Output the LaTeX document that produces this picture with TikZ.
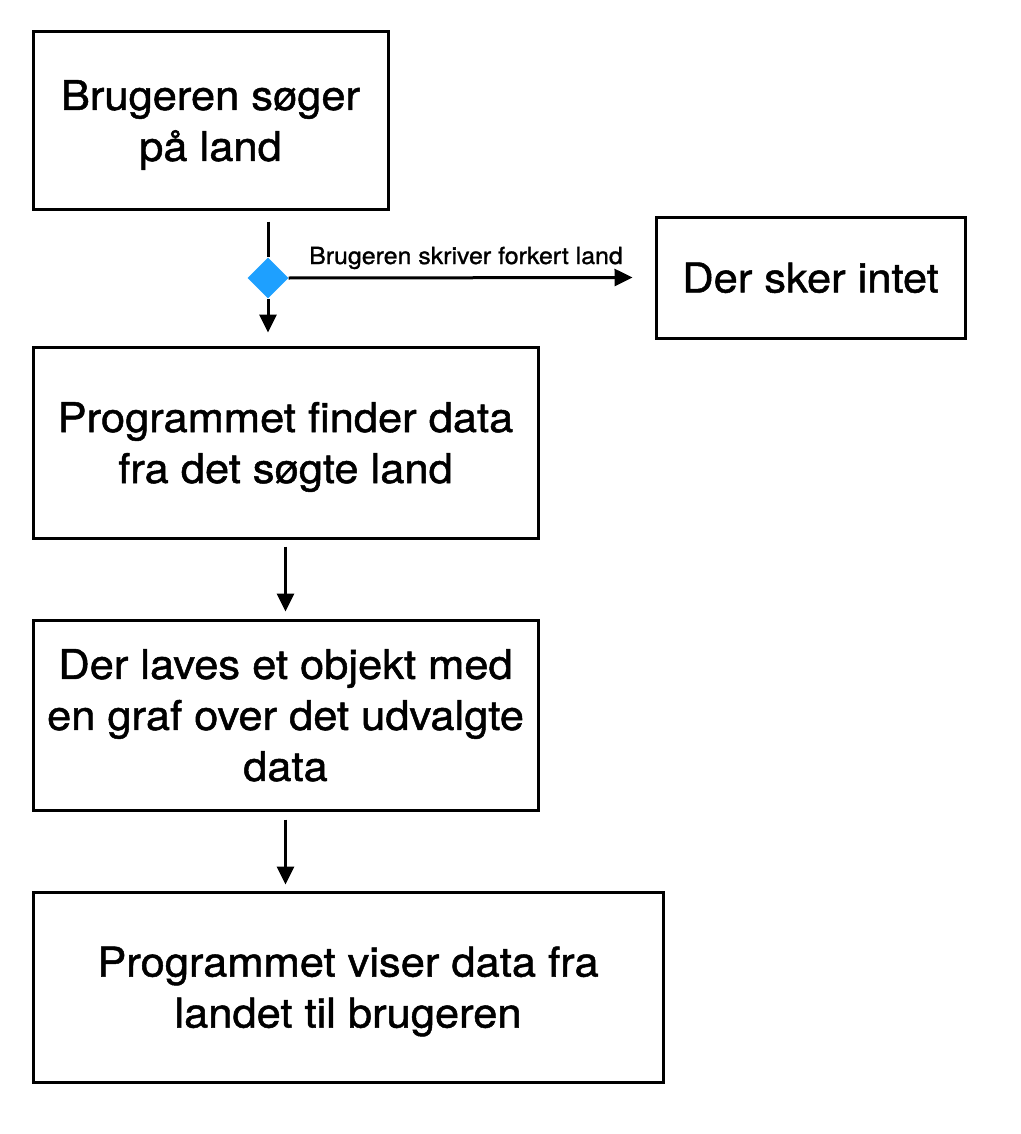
\documentclass[tikz,border=0pt]{standalone}
\usepackage{fontspec}
\setmainfont{TeX Gyre Heros}[FakeBold=1.2, FakeStretch=1.06]
\usetikzlibrary{arrows.meta,shapes.geometric}
\definecolor{decblue}{RGB}{30,160,255}
\tikzset{
  box/.style={draw=black, line width=3pt, fill=white, align=center, inner sep=0pt,
    text depth=0pt, font=\fontsize{41}{51}\selectfont},
  arr/.style={line width=3pt, -{Triangle[length=18pt,width=17pt]}},
  plain/.style={line width=3pt},
  dec/.style={diamond, fill=decblue, draw=none, minimum size=41pt, inner sep=0pt},
  lbl/.style={font=\fontsize{23.5}{28}\selectfont, inner sep=0pt}
}
\begin{document}
\begin{tikzpicture}[x=1pt,y=-1pt]
\useasboundingbox (0,0) rectangle (1020,1134);
\node[box, minimum width=355pt, minimum height=177pt] (b1) at (210.5,120.5) {Brugeren søger\\på land};
\node[box, minimum width=309pt, minimum height=121pt] (b5) at (810.5,277.5) {Der sker intet};
\node[box, minimum width=505pt, minimum height=191pt] (b2) at (285.5,442.5) {Programmet finder data\\fra det søgte land};
\node[box, minimum width=505pt, minimum height=190pt] (b3) at (285.5,715) {Der laves et objekt med\\en graf over det udvalgte\\data};
\node[box, minimum width=630pt, minimum height=190pt] (b4) at (348,987) {Programmet viser data fra\\landet til brugeren};
\node[dec] (d) at (268,278) {};
\node[lbl, anchor=base] (l1) at (466,264) {Brugeren skriver forkert land};
\draw[plain, shorten <=11pt] (d.north |- b1.south) -- (d.north);
\draw[arr, shorten >=13pt] (d.south) -- (d.south |- b2.north);
\draw[arr, shorten >=22pt] (d.east) -- (b5.west);
\draw[arr, shorten <=7pt, shorten >=7pt] (b2.south) -- (b3.north);
\draw[arr, shorten <=8pt, shorten >=6pt] (b3.south) -- (b3.south |- b4.north);
\end{tikzpicture}
\end{document}
